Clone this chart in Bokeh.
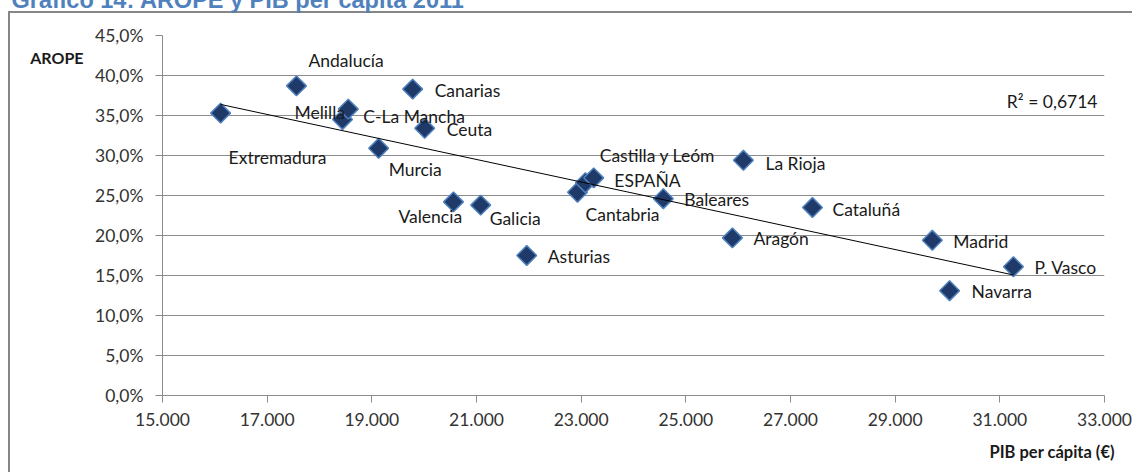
import json
import numpy as np
from bokeh.plotting import figure
from bokeh.models import (ColumnDataSource, Range1d, FixedTicker, LinearAxis,
                          CustomJSTickFormatter, Label)
from bokeh.core.properties import value
from bokeh.embed import file_html
from bokeh.resources import INLINE

# ---------------- data ----------------
regions = ["Extremadura", "Andalucía", "Melilla", "C-La Mancha", "Canarias",
           "Ceuta", "Murcia", "Valencia", "Galicia", "Asturias", "Cantabria",
           "ESPAÑA", "Castilla y Leóm", "Baleares", "La Rioja", "Aragón",
           "Cataluñá", "Madrid", "P. Vasco", "Navarra"]
pib = [16110, 17560, 18440, 18550, 19780, 20010, 19130, 20560, 21080, 21960,
       22930, 23080, 23240, 24570, 26100, 25890, 27420, 29710, 31260, 30040]
arope = [35.3, 38.7, 34.5, 35.8, 38.3, 33.4, 30.9, 24.2, 23.8, 17.5,
         25.4, 26.6, 27.2, 24.6, 29.4, 19.7, 23.5, 19.4, 16.1, 13.1]

x_ticks = [15000, 17000, 19000, 21000, 23000, 25000, 27000, 29000, 31000, 33000]
y_ticks = [0, 5, 10, 15, 20, 25, 30, 35, 40, 45]

title_text = "Gráfico 14: AROPE y PIB per cápita 2011"
x_title = "PIB per cápita (€)"
y_title = "AROPE"
r2_text = "R² = 0,6714"

# label placement (screen px offsets from each point)
label_dx = [8, 12, -48, 15, 22, 22, 10, -55, 9, 21, 8, 29, 6, 21, 22, 21, 20, 21, 21, 22]
label_dy = [44, -25, -7, 7, 1, 1, 21, 15, 13, 1, 22, -2, -22, 1, 3, 1, 2, 1, 1, 1]
# where the axis titles sit, in axis units
x_title_at = 32000
y_title_at = 42.2

# ---------------- figure ----------------
T = 55                      # canvas is shifted up by T px (title cut by window top)
W, H = 1132, 472 + T
FRAME_L, FRAME_R, FRAME_T, FRAME_B = 162, 1104, 35, 395   # page px

LBL_FONT = "Lato"
GRID = "#8C8C8C"
BORDER = "#868686"
TXT = "#1a1a1a"

p = figure(width=W, height=H, x_range=Range1d(15000, 33000), y_range=Range1d(0, 45),
           output_backend="svg", toolbar_location=None,
           min_border_left=FRAME_L, min_border_right=W - FRAME_R,
           min_border_top=FRAME_T + T, min_border_bottom=H - (FRAME_B + T))
bg = (f"linear-gradient({BORDER},{BORDER}) 8px {11 + T}px / 2px 3000px no-repeat, "
      f"linear-gradient({BORDER},{BORDER}) 8px {11 + T}px / 3000px 2px no-repeat")
p.styles = {"position": "relative", "top": f"-{T}px", "margin-bottom": f"-{T}px",
            "background": bg}
p.outline_line_color = None
p.background_fill_color = "white"
p.border_fill_color = None

# title (cut by the top edge as in the source document)
p.title.text = title_text
p.title.align = "left"
p.title.offset = 11 - FRAME_L
p.title.standoff = 45
p.title.text_font = "Liberation Sans"
p.title.text_font_style = "bold"
p.title.text_font_size = "23.5px"
p.title.text_color = "#4F81BD"

# axes
for ax in (p.xaxis[0], p.yaxis[0]):
    ax.axis_line_color = GRID
    ax.major_tick_line_color = GRID
    ax.major_tick_out = 7
    ax.major_tick_in = 0
    ax.minor_tick_line_color = None
    ax.major_label_text_font = LBL_FONT
    ax.major_label_text_font_size = "17.5px"
    ax.major_label_text_color = "#333333"

p.xaxis.ticker = FixedTicker(ticks=x_ticks)
p.yaxis.ticker = FixedTicker(ticks=y_ticks)
p.xaxis.formatter = CustomJSTickFormatter(code="return (tick/1000).toFixed(3);")
p.yaxis.formatter = CustomJSTickFormatter(code="return tick.toFixed(1).replace('.', ',') + '%';")
p.yaxis.major_label_standoff = 12
p.xaxis.major_label_standoff = 10


def title_axis(at, text, standoff, size):
    return LinearAxis(ticker=FixedTicker(ticks=[at]),
                      formatter=CustomJSTickFormatter(code=f"return {json.dumps(text)};"),
                      axis_line_color=None, major_tick_line_color=None,
                      minor_tick_line_color=None, major_tick_out=0, major_tick_in=0,
                      major_label_standoff=standoff,
                      major_label_text_font=LBL_FONT, major_label_text_font_style="bold",
                      major_label_text_font_size=size, major_label_text_color=TXT)


p.add_layout(title_axis(y_title_at, y_title, 9, "16px"), "left")
p.add_layout(title_axis(x_title_at, x_title, 13, "16.5px"), "below")

p.xgrid.grid_line_color = None
p.ygrid.ticker = FixedTicker(ticks=y_ticks)
p.ygrid.grid_line_color = GRID

src = ColumnDataSource(dict(x=pib, y=arope, name=regions, dx=label_dx, dy=label_dy))

p.scatter("x", "y", source=src, marker="square", size=14, angle=np.pi / 4,
          fill_color="#1F3A68", line_color="#4F81BD", line_width=1.5)

coef = np.polyfit(pib, arope, 1)
xs = [min(pib), max(pib)]
p.line(xs, list(np.polyval(coef, xs)), line_color="black", line_width=1)

p.text("x", "y", text="name", source=src, x_offset="dx", y_offset="dy",
       text_font=value(LBL_FONT), text_font_size=value("17.5px"),
       text_baseline="middle", text_align="left", text_color=TXT)

p.add_layout(Label(x=1097, y=101 + T, x_units="canvas", y_units="canvas",
                   text=r2_text, text_font=LBL_FONT,
                   text_font_size="17.5px", text_color=TXT,
                   text_baseline="middle", text_align="right"))

open("out.html", "w").write(file_html(p, INLINE))
